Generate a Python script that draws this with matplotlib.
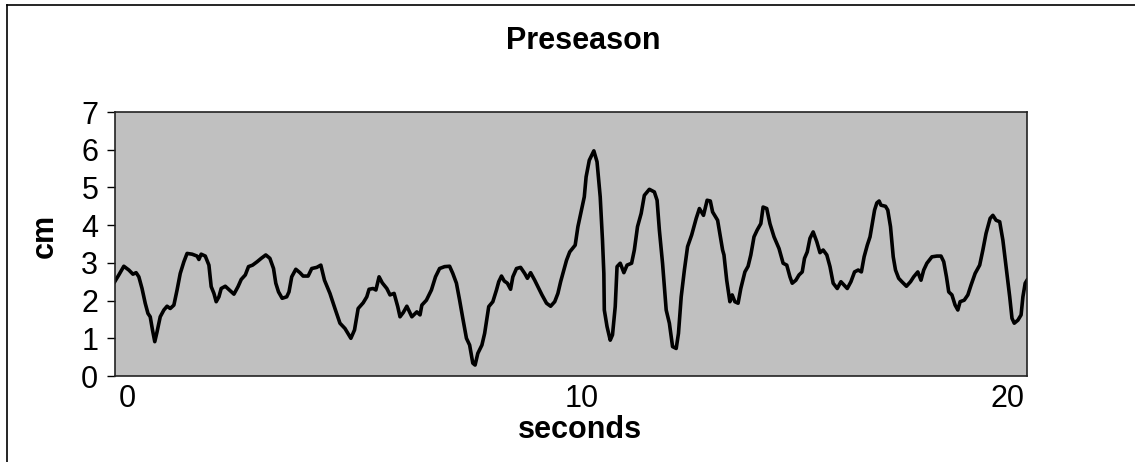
import matplotlib
matplotlib.use("Agg")
import matplotlib.pyplot as plt
from matplotlib.lines import Line2D

plt.rcParams['font.family'] = ['Liberation Sans', 'DejaVu Sans']

# sway trace (time in seconds, displacement in cm)
seconds = [
    -0.27, -0.18, -0.07, 0.04, 0.13, 0.20, 0.26, 0.33, 0.40, 0.46, 0.51, 0.56,
    0.61, 0.66, 0.73, 0.81, 0.88, 0.95, 1.03, 1.10, 1.17, 1.25, 1.32, 1.43,
    1.54, 1.58, 1.63, 1.72, 1.80, 1.85, 1.91, 1.96, 2.02, 2.07, 2.16, 2.25,
    2.35, 2.44, 2.51, 2.60, 2.67, 2.76, 2.86, 2.95, 3.05, 3.14, 3.22, 3.27,
    3.33, 3.41, 3.51, 3.56, 3.62, 3.71, 3.80, 3.87, 3.98, 4.06, 4.17, 4.26,
    4.34, 4.46, 4.57, 4.68, 4.79, 4.92, 5.00, 5.08, 5.19, 5.27, 5.32, 5.41,
    5.47, 5.54, 5.61, 5.71, 5.78, 5.87, 5.95, 6.00, 6.07, 6.15, 6.26, 6.37,
    6.44, 6.48, 6.58, 6.69, 6.78, 6.87, 6.98, 7.09, 7.16, 7.24, 7.31, 7.38,
    7.46, 7.53, 7.60, 7.65, 7.71, 7.80, 7.86, 7.95, 8.04, 8.12, 8.17, 8.23,
    8.29, 8.36, 8.43, 8.48, 8.56, 8.65, 8.74, 8.80, 8.87, 8.96, 9.03, 9.12,
    9.22, 9.31, 9.40, 9.47, 9.53, 9.60, 9.66, 9.73, 9.79, 9.85, 9.91, 9.98,
    10.05, 10.09, 10.16, 10.26, 10.33, 10.40, 10.45, 10.48, 10.49, 10.55, 10.62, 10.67,
    10.73, 10.77, 10.84, 10.92, 10.99, 11.09, 11.15, 11.22, 11.30, 11.37, 11.48, 11.59,
    11.65, 11.70, 11.77, 11.85, 11.92, 11.99, 12.07, 12.12, 12.18, 12.25, 12.32, 12.41,
    12.51, 12.58, 12.67, 12.75, 12.82, 12.87, 12.98, 13.09, 13.12, 13.18, 13.25, 13.30,
    13.36, 13.43, 13.49, 13.58, 13.65, 13.71, 13.78, 13.85, 13.93, 13.98, 14.06, 14.13,
    14.22, 14.33, 14.42, 14.50, 14.57, 14.62, 14.70, 14.77, 14.84, 14.89, 14.95, 15.01,
    15.08, 15.16, 15.23, 15.30, 15.38, 15.45, 15.52, 15.61, 15.69, 15.76, 15.83, 15.91,
    15.99, 16.07, 16.14, 16.20, 16.27, 16.33, 16.38, 16.43, 16.48, 16.53, 16.57, 16.67,
    16.72, 16.78, 16.84, 16.89, 16.96, 17.03, 17.13, 17.22, 17.29, 17.38, 17.45, 17.51,
    17.58, 17.69, 17.80, 17.89, 17.95, 18.01, 18.06, 18.13, 18.20, 18.26, 18.31, 18.40,
    18.48, 18.55, 18.64, 18.74, 18.81, 18.88, 18.97, 19.03, 19.10, 19.18, 19.25, 19.33,
    19.40, 19.45, 19.50, 19.58, 19.65, 19.69, 19.74, 19.78,
]
cm = [
    2.50, 2.68, 2.91, 2.81, 2.70, 2.74, 2.63, 2.32, 1.93, 1.66, 1.57, 1.22,
    0.91, 1.17, 1.57, 1.75, 1.85, 1.79, 1.88, 2.28, 2.72, 3.03, 3.25, 3.23,
    3.18, 3.09, 3.23, 3.18, 2.94, 2.37, 2.19, 1.97, 2.10, 2.32, 2.38, 2.28,
    2.17, 2.37, 2.56, 2.68, 2.90, 2.94, 3.03, 3.12, 3.21, 3.12, 2.85, 2.46,
    2.23, 2.06, 2.10, 2.23, 2.63, 2.83, 2.74, 2.65, 2.65, 2.85, 2.88, 2.94,
    2.54, 2.19, 1.79, 1.40, 1.26, 1.00, 1.22, 1.79, 1.94, 2.10, 2.30, 2.32,
    2.28, 2.63, 2.47, 2.32, 2.15, 2.19, 1.84, 1.57, 1.68, 1.85, 1.57, 1.70,
    1.62, 1.88, 2.01, 2.28, 2.63, 2.85, 2.90, 2.91, 2.72, 2.46, 2.01, 1.53,
    1.00, 0.82, 0.34, 0.29, 0.60, 0.82, 1.13, 1.84, 1.97, 2.28, 2.50, 2.65,
    2.52, 2.46, 2.30, 2.63, 2.85, 2.88, 2.72, 2.59, 2.74, 2.54, 2.37, 2.15,
    1.93, 1.85, 1.97, 2.19, 2.50, 2.81, 3.07, 3.29, 3.38, 3.47, 3.96, 4.35,
    4.75, 5.28, 5.72, 5.97, 5.68, 4.75, 3.60, 2.72, 1.75, 1.31, 0.95, 1.09,
    1.84, 2.90, 2.99, 2.74, 2.94, 2.99, 3.34, 3.96, 4.31, 4.79, 4.95, 4.88,
    4.66, 3.87, 2.99, 1.75, 1.40, 0.78, 0.73, 1.13, 2.10, 2.81, 3.43, 3.74,
    4.18, 4.44, 4.26, 4.66, 4.64, 4.35, 4.13, 3.34, 3.21, 2.54, 1.97, 2.15,
    1.97, 1.93, 2.32, 2.76, 2.91, 3.21, 3.69, 3.87, 4.04, 4.48, 4.44, 4.04,
    3.69, 3.38, 2.99, 2.94, 2.63, 2.46, 2.54, 2.68, 2.76, 3.12, 3.29, 3.65,
    3.82, 3.56, 3.27, 3.34, 3.21, 2.90, 2.46, 2.32, 2.50, 2.41, 2.32, 2.50,
    2.76, 2.81, 2.76, 3.16, 3.47, 3.69, 4.04, 4.40, 4.59, 4.64, 4.53, 4.50,
    4.40, 3.96, 3.16, 2.81, 2.59, 2.50, 2.38, 2.50, 2.63, 2.76, 2.54, 2.81,
    2.99, 3.16, 3.18, 3.18, 3.03, 2.63, 2.23, 2.15, 1.88, 1.75, 1.97, 2.01,
    2.15, 2.41, 2.72, 2.94, 3.34, 3.78, 4.18, 4.26, 4.13, 4.09, 3.60, 2.81,
    2.10, 1.53, 1.40, 1.48, 1.62, 2.10, 2.46, 2.54,
]

x_ticks = [0, 10]
x_labels = ["0", "10"]
last_label = "20"
y_ticks = [0, 1, 2, 3, 4, 5, 6, 7]

fig = plt.figure(figsize=(11.35, 4.62), dpi=100)
ax = fig.add_axes([115 / 1135, 86 / 462, 912 / 1135, 264 / 462])
ax.set_facecolor("#c0c0c0")

ax.plot(seconds, cm, color="black", linewidth=2.6)

ax.set_xlim(-0.264, 19.78)
ax.set_ylim(0, 7)
ax.set_yticks(y_ticks)
ax.set_xticks(x_ticks)
ax.set_xticklabels(x_labels)
ax.tick_params(axis="y", length=6, width=1, pad=6, labelsize=22)
ax.tick_params(axis="x", length=0, pad=6, labelsize=22)

# Excel pulls the last category label inside the plot edge
ax.annotate(last_label, xy=(19.72, 0), xycoords=ax.get_xaxis_transform(),
            xytext=(0, -6), textcoords="offset points",
            ha="right", va="top", fontsize=22)

for s in ax.spines.values():
    s.set_color("#222222")
    s.set_linewidth(1.2)

ax.set_xlabel("seconds", fontsize=22, fontweight="bold")
ax.xaxis.set_label_coords(0.51, -0.205)
ax.xaxis.label.set_va("center")
ax.set_ylabel("cm", fontsize=22, fontweight="bold")
ax.yaxis.set_label_coords(-0.077, 0.53)
ax.yaxis.label.set_va("center")

fig.text(583.5 / 1135, 1 - 41 / 462, "Preseason", ha="center", va="center",
         fontsize=22, fontweight="bold")

# chart-area border (runs off the right and bottom of the picture)
fig.add_artist(Line2D([7 / 1135, 7 / 1135], [0, 1 - 5 / 462], color="black", linewidth=1.2))
fig.add_artist(Line2D([7 / 1135, 1], [1 - 5 / 462, 1 - 5 / 462], color="black", linewidth=1.2))

fig.savefig("out.png", dpi=100)
